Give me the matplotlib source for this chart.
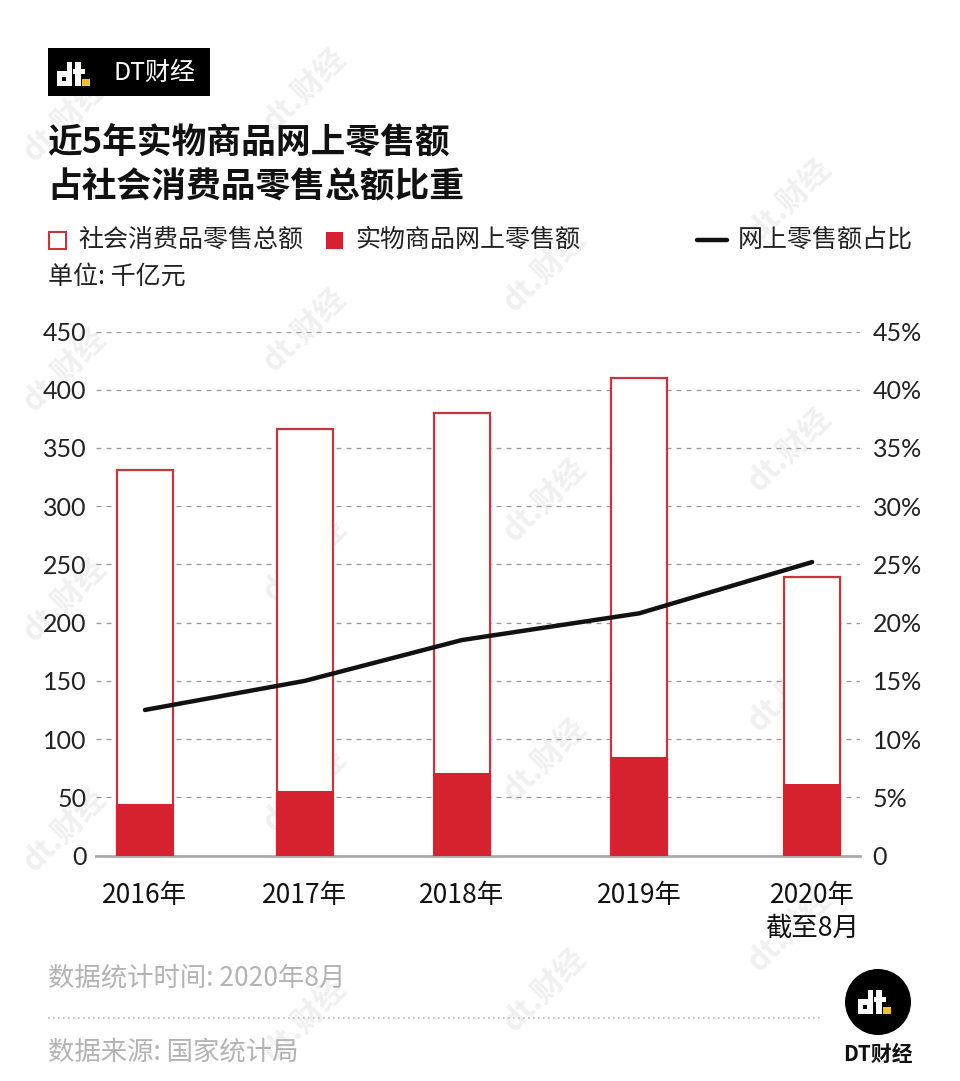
import matplotlib
matplotlib.use("Agg")
import matplotlib.pyplot as plt
from matplotlib.patches import Rectangle, Circle
from matplotlib.ticker import FixedLocator

plt.rcParams['font.family'] = ['Noto Sans CJK SC', 'DejaVu Sans']

# data
years = ['2016年', '2017年', '2018年', '2019年', '2020年\n截至8月']
total_retail = [331, 366, 380, 410, 239]      # 社会消费品零售总额, 千亿元
online_retail = [44, 55, 71, 85, 61]          # 实物商品网上零售额, 千亿元
online_share = [12.5, 15.0, 18.5, 20.8, 25.2]  # 网上零售额占比, %
left_ticks = [0, 50, 100, 150, 200, 250, 300, 350, 400, 450]
right_ticks = [0, 5, 10, 15, 20, 25, 30, 35, 40, 45]

# layout: bar centres are not evenly spaced in the original
x_pos = [0, 1, 1.98, 3.09, 4.17]
bar_w = 0.35

RED = '#d6212e'
EDGE = '#c8343c'
W, H = 960, 1081

fig = plt.figure(figsize=(W / 100, H / 100), dpi=100)
fig.patch.set_facecolor('white')

# full-figure overlay in pixel coordinates for titles, legend, logos
bg = fig.add_axes([0, 0, 1, 1])
bg.set_xlim(0, W)
bg.set_ylim(H, 0)
bg.axis('off')

# faint watermarks
wm_cols = [(65, [120, 370, 600, 830]),
           (305, [90, 330, 560, 790, 1020]),
           (545, [270, 500, 760, 990]),
           (790, [200, 450, 690, 930])]
for cx, ys in wm_cols:
    for cy in ys:
        bg.text(cx, cy, 'dt.财经', rotation=45, ha='center', va='center',
                fontsize=22, fontweight='bold', color='#f0f0f0', zorder=0)


def dt_logo(x, y, s, fg='white', bgc='black'):
    # blocky "dt." mark, (x, y) = top-left, s = letter height in px
    bg.add_patch(Rectangle((x, y + 0.38 * s), 0.62 * s, 0.62 * s, color=fg, lw=0, zorder=5))
    bg.add_patch(Rectangle((x + 0.42 * s, y), 0.2 * s, s, color=fg, lw=0, zorder=5))
    bg.add_patch(Rectangle((x + 0.2 * s, y + 0.62 * s), 0.18 * s, 0.18 * s, color=bgc, lw=0, zorder=6))
    bg.add_patch(Rectangle((x + 0.76 * s, y), 0.24 * s, s, color=fg, lw=0, zorder=5))
    bg.add_patch(Rectangle((x + 0.66 * s, y + 0.3 * s), 0.5 * s, 0.2 * s, color=fg, lw=0, zorder=5))
    bg.add_patch(Rectangle((x + 1.06 * s, y + 0.7 * s), 0.3 * s, 0.3 * s, color='#f2c12e', lw=0, zorder=5))


# header logo box
bg.add_patch(Rectangle((48, 48), 162, 48, color='black', lw=0, zorder=4))
dt_logo(57, 62, 24)
bg.text(114, 73, 'DT财经', color='white', fontsize=18, va='center', ha='left', zorder=6)

# title
bg.text(47, 143, '近5年实物商品网上零售额', fontsize=25, fontweight='bold', va='center', color='#111111')
bg.text(47, 187, '占社会消费品零售总额比重', fontsize=25, fontweight='bold', va='center', color='#111111')

# legend
bg.add_patch(Rectangle((49, 232), 17, 17, facecolor='white', edgecolor=EDGE, lw=1.5))
bg.text(78, 240, '社会消费品零售总额', fontsize=18, va='center', color='#222222')
bg.add_patch(Rectangle((326, 232), 17, 17, facecolor=RED, edgecolor='none'))
bg.text(355, 240, '实物商品网上零售额', fontsize=18, va='center', color='#222222')
bg.plot([697, 727], [240, 240], color='#111111', lw=3.2, solid_capstyle='round')
bg.text(738, 240, '网上零售额占比', fontsize=18, va='center', color='#222222')
bg.text(48, 277, '单位: 千亿元', fontsize=18, va='center', color='#222222')

# footer
bg.text(48, 978, '数据统计时间: 2020年8月', fontsize=19, va='center', color='#b3b3b3')
bg.plot([48, 822], [1018, 1018], color='#bbbbbb', lw=1.2, ls=(0, (1, 2)))
bg.text(48, 1052, '数据来源: 国家统计局', fontsize=19, va='center', color='#b3b3b3')
bg.add_patch(Circle((878, 1002), 33, color='black', lw=0, zorder=4))
dt_logo(858, 990, 24)
bg.text(878, 1054, 'DT财经', fontsize=15, fontweight='bold', ha='center', va='center', color='#111111')

# chart
ax_left, ax_right, ax_top, ax_bot = 96, 860, 331.5, 855.5
ax = fig.add_axes([ax_left / W, (H - ax_bot) / H, (ax_right - ax_left) / W, (ax_bot - ax_top) / H])
ax.patch.set_alpha(0)
ax.set_xlim(-0.306, -0.306 + (ax_right - ax_left) / 160)
ax.set_ylim(0, 450)

ax.bar(x_pos, total_retail, width=bar_w, facecolor='white', edgecolor=EDGE, linewidth=1.6, zorder=3)
ax.bar(x_pos, online_retail, width=bar_w + 0.01, color=RED, linewidth=0, zorder=4)

ax.yaxis.set_major_locator(FixedLocator(left_ticks))
ax.set_yticklabels([str(v) for v in left_ticks], fontsize=18, family='Lato', color='#222222')
ax.grid(axis='y', color='#9a9a9a', linestyle=(0, (4, 4)), linewidth=0.9, zorder=0)
ax.set_axisbelow(True)
ax.set_xticks(x_pos)
ax.set_xticklabels(years, fontsize=19, color='#111111', linespacing=1.3)
ax.tick_params(axis='x', length=0, pad=19)
ax.tick_params(axis='y', length=0, pad=7)
for side in ['top', 'right', 'left']:
    ax.spines[side].set_visible(False)
ax.spines['bottom'].set_color('#aaaaaa')
ax.spines['bottom'].set_linewidth(2)

ax2 = ax.twinx()
ax2.set_ylim(0, 45)
ax2.plot(x_pos, online_share, color='#111111', lw=3.2, solid_capstyle='round', zorder=5)
ax2.yaxis.set_major_locator(FixedLocator(right_ticks))
ax2.set_yticklabels(['0'] + [f'{v}%' for v in right_ticks[1:]], fontsize=18, family='Lato', color='#222222')
ax2.tick_params(axis='y', length=0, pad=9)
for side in ['top', 'right', 'left', 'bottom']:
    ax2.spines[side].set_visible(False)

fig.savefig('out.png', dpi=100, facecolor='white')
